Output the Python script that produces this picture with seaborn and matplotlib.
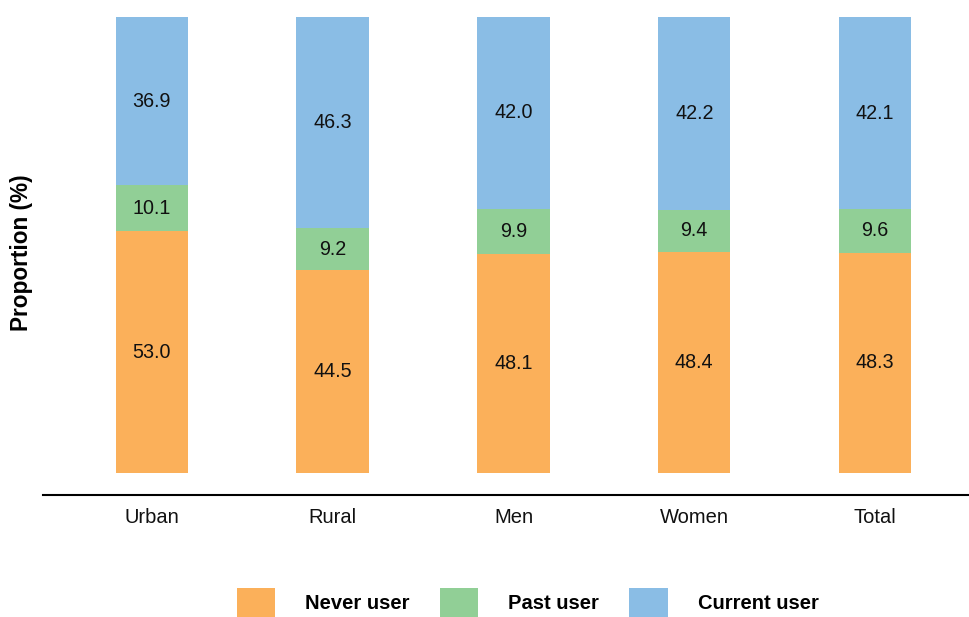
import numpy as np
import pandas as pd
from matplotlib import pyplot as plt
from matplotlib.patches import Patch
import seaborn as sns

sns.set_style('white')
plt.rcParams['font.family'] = ['Liberation Sans', 'DejaVu Sans']
plt.rcParams['text.color'] = 'black'

categories = ['Urban', 'Rural', 'Men', 'Women', 'Total']
never_user = [53.0, 44.5, 48.1, 48.4, 48.3]
past_user = [10.1, 9.2, 9.9, 9.4, 9.6]
current_user = [36.9, 46.3, 42.0, 42.2, 42.1]

series_names = ['Never user', 'Past user', 'Current user']
colors = ['#FBB05A', '#91CF96', '#8ABDE5']

df = pd.DataFrame({'group': categories,
                   'Never user': never_user,
                   'Past user': past_user,
                   'Current user': current_user})
# cumulative tops for the stacked bars
cum = df[series_names].cumsum(axis=1)

fig = plt.figure(figsize=(9.7, 6.17), dpi=100)
ax = fig.add_axes([0.0443, 0.1977, 0.9557, 0.7747])

# draw from the tallest layer down so lower segments sit on top
for name, col in reversed(list(zip(series_names, colors))):
    sns.barplot(x=df['group'], y=cum[name], color=col, width=0.4,
                saturation=1, linewidth=0, ax=ax)

# value labels in the middle of each segment
for i in range(len(categories)):
    bottom = 0
    for name in series_names:
        v = df.loc[i, name]
        ax.text(i, bottom + v / 2, f'{v:.1f}', ha='center', va='center',
                fontsize=14.2, color='#111111')
        bottom += v

ax.set_xlim(-0.602, 4.525)
ax.set_ylim(-4.8, 100)
ax.set_xlabel('')
ax.set_ylabel('')
ax.set_yticks([])
for s in ['top', 'right', 'left']:
    ax.spines[s].set_visible(False)
ax.spines['bottom'].set_linewidth(1.5)
ax.spines['bottom'].set_color('black')
ax.tick_params(axis='x', length=0, pad=9, labelsize=14.5, labelcolor='#111111')

fig.text(22 / 970, 1 - 253 / 617, 'Proportion (%)', rotation=90, ha='center',
         va='center', fontsize=16.3, fontweight='bold')

handles = [Patch(facecolor=c, edgecolor='none') for c in colors]
fig.legend(handles, series_names, loc='center', bbox_to_anchor=(0.544, 1 - 603 / 617),
           ncol=3, frameon=False, handlelength=1.9, handleheight=1.9,
           handletextpad=1.5, columnspacing=1.5,
           prop={'weight': 'bold', 'size': 14.5})

fig.savefig('out.png', dpi=100)
